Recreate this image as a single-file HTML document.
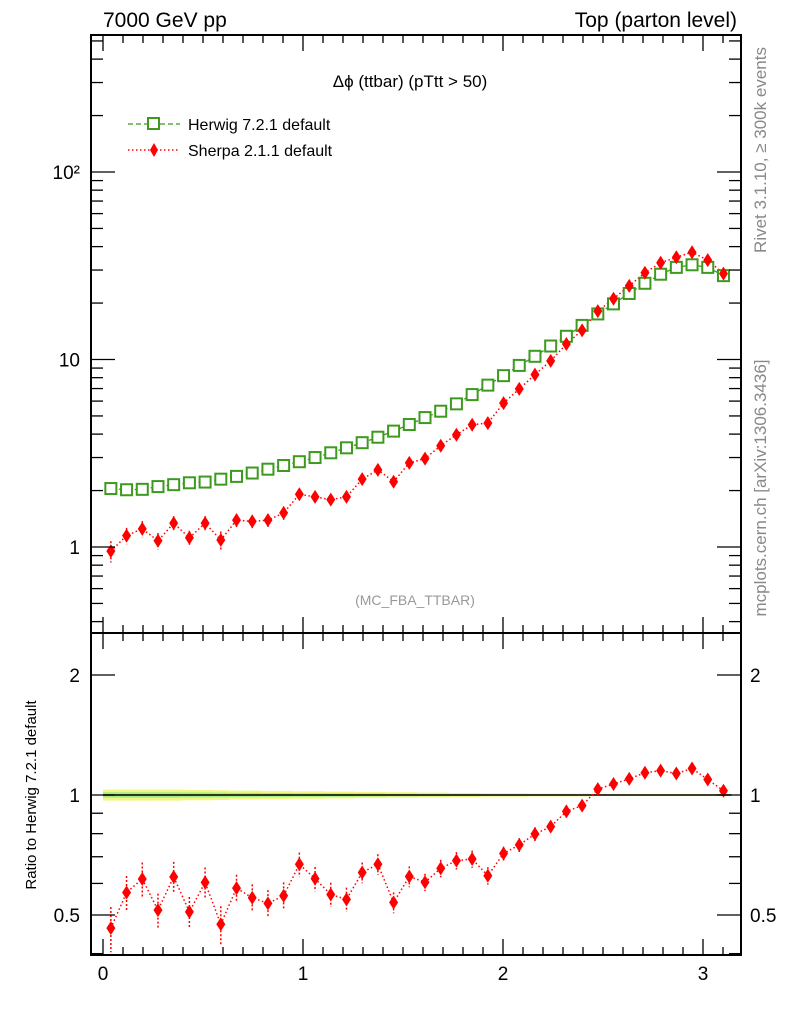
<!DOCTYPE html>
<html><head><meta charset="utf-8"><style>
body{margin:0;background:#fff}
svg text{font-family:"Liberation Sans",sans-serif}
</style></head><body>
<svg id="c" width="786" height="1024" xmlns="http://www.w3.org/2000/svg">
<g id="g"></g>
<text x="103" y="27" font-size="21">7000 GeV pp</text>
<text x="737" y="27" font-size="21" text-anchor="end">Top (parton level)</text>
<text x="410" y="87" font-size="17" text-anchor="middle">Δϕ (ttbar) (pTtt &gt; 50)</text>
<text x="415" y="605" font-size="14" fill="#999" text-anchor="middle">(MC_FBA_TTBAR)</text>
<text transform="translate(766,150) rotate(-90)" font-size="17" fill="#888" text-anchor="middle">Rivet 3.1.10, ≥ 300k events</text>
<text transform="translate(766,488) rotate(-90)" font-size="17" fill="#888" text-anchor="middle">mcplots.cern.ch [arXiv:1306.3436]</text>
<text transform="translate(36,795) rotate(-90)" font-size="15" text-anchor="middle">Ratio to Herwig 7.2.1 default</text>
<g>
<line x1="128" y1="124" x2="180" y2="124" stroke="#3c9a1e" stroke-width="1.3" stroke-dasharray="5,3"/>
<rect x="148" y="118" width="11" height="11" fill="#fff" stroke="#3c9a1e" stroke-width="2"/>
<text x="188" y="130" font-size="16">Herwig 7.2.1 default</text>
<line x1="128" y1="150" x2="180" y2="150" stroke="red" stroke-width="1.5" stroke-dasharray="1.5,2.5"/>
<polygon points="154,143 158,150 154,157 150,150" fill="red"/>
<text x="188" y="156" font-size="16">Sherpa 2.1.1 default</text>
</g>
</svg>
<script>
const herwig=[2.05,2.02,2.03,2.1,2.15,2.2,2.22,2.3,2.38,2.48,2.6,2.72,2.85,3.0,3.18,3.38,3.6,3.85,4.15,4.5,4.9,5.3,5.8,6.5,7.3,8.2,9.3,10.4,11.8,13.3,15.2,17.5,19.8,22.5,25.5,28.5,31,32,31,28];
const sherpa=[0.95,1.15,1.25,1.08,1.34,1.12,1.34,1.09,1.39,1.37,1.39,1.52,1.91,1.85,1.79,1.85,2.30,2.58,2.23,2.81,2.96,3.47,3.97,4.49,4.58,5.85,6.97,8.30,9.83,12.1,14.3,18.1,21.1,24.7,29.0,32.8,35.1,37.3,33.9,28.7];
const sherpaRelErr=[0.13,0.1,0.1,0.1,0.09,0.09,0.09,0.11,0.08,0.08,0.08,0.08,0.07,0.07,0.07,0.07,0.06,0.06,0.06,0.06,0.05,0.05,0.05,0.05,0.05,0.04,0.04,0.04,0.035,0.03,0.03,0.025,0.02,0.02,0.02,0.02,0.02,0.02,0.02,0.02];
const herwigRelErr=[0.016,0.016,0.016,0.016,0.016,0.015,0.015,0.014,0.013,0.013,0.012,0.012,0.011,0.011,0.01,0.01,0.009,0.009,0.008,0.008,0.007,0.007,0.006,0.006,0.005,0.005,0.005,0.004,0.004,0.004,0.004,0.003,0.003,0.003,0.003,0.003,0.003,0.003,0.003,0.003];
const xTicks=[0,1,2,3];
const mainTicks=[1,10,100];const mainTickLabels=["1","10","10²"];
const ratioTicks=[0.5,1,2];const ratioTickLabels=["0.5","1","2"];
const NS="http://www.w3.org/2000/svg";
const g=document.getElementById('g');
const L=91,R=741,T=35,MB=633,B=955;
const nb=herwig.length,w=Math.PI/nb;
const X=v=>103+v*200;
const Y=v=>547-Math.log10(v)*187.5;
const YR=v=>795-Math.log10(v)*398.6;
function el(t,a,p){const e=document.createElementNS(NS,t);for(const k in a)e.setAttribute(k,a[k]);(p||g).appendChild(e);return e;}
for(let i=0;i<nb;i++){const x0=X(i*w),x1=X((i+1)*w);
const r=el('rect',{x:x0,y:YR(1+2*herwigRelErr[i]),width:x1-x0+0.5,height:YR(1-2*herwigRelErr[i])-YR(1+2*herwigRelErr[i]),fill:'#f0f880'});

const r2=el('rect',{x:x0,y:YR(1+herwigRelErr[i]),width:x1-x0+0.5,height:YR(1-herwigRelErr[i])-YR(1+herwigRelErr[i]),fill:'#a8ec88'});
}
const ref=el('line',{x1:X(0),x2:X(Math.PI),y1:YR(1),y2:YR(1),stroke:'#000','stroke-width':1.5});

let hp='',sp='',rp='';
for(let i=0;i<nb;i++){const cx=X((i+0.5)*w);
hp+=(i?'L':'M')+cx+','+Y(herwig[i]);sp+=(i?'L':'M')+cx+','+Y(sherpa[i]);rp+=(i?'L':'M')+cx+','+YR(sherpa[i]/herwig[i]);}
const hl=el('path',{d:hp,fill:'none',stroke:'#3c9a1e','stroke-width':1.3,'stroke-dasharray':'5,3'});

const sl=el('path',{d:sp,fill:'none',stroke:'red','stroke-width':1.5,'stroke-dasharray':'1.5,2.5'});

const rl=el('path',{d:rp,fill:'none',stroke:'red','stroke-width':1.5,'stroke-dasharray':'1.5,2.5'});

function diamond(cx,cy,name){const p=el('polygon',{points:`${cx},${cy-7} ${cx+4.5},${cy} ${cx},${cy+7} ${cx-4.5},${cy}`,fill:'red'});
}
for(let i=0;i<nb;i++){const cx=X((i+0.5)*w);
const hy=Y(herwig[i]);
const sq=el('rect',{x:cx-5.5,y:hy-5.5,width:11,height:11,fill:'#fff',stroke:'#3c9a1e','stroke-width':2});

const s=sherpa[i],e=sherpaRelErr[i];
const eb=el('line',{x1:cx,x2:cx,y1:Y(s*(1+e)),y2:Y(s*(1-e)),stroke:'red','stroke-width':1.5,'stroke-dasharray':'2,2'});

diamond(cx,Y(s),'sherpa-point');
const r=s/herwig[i];
const re=el('line',{x1:cx,x2:cx,y1:YR(r*(1+e)),y2:YR(r*(1-e)),stroke:'red','stroke-width':1.5,'stroke-dasharray':'2,2'});

diamond(cx,YR(r),'ratio-point');}
const f1=el('rect',{x:L,y:T,width:R-L,height:MB-T,fill:'none',stroke:'#000','stroke-width':2});

const f2=el('rect',{x:L,y:MB,width:R-L,height:B-MB,fill:'none',stroke:'#000','stroke-width':2});

for(let k=0;k<=31;k++){const v=k/10,x=X(v),maj=k%10==0,len=maj?16:8;
for(const [yb0,dir] of [[MB,-1],[B,-1],[T,1],[MB,1]]){
const t=el('line',{x1:x,x2:x,y1:yb0,y2:yb0+dir*len,stroke:'#000','stroke-width':1.3});
}}
xTicks.forEach(v=>{const t=el('text',{x:X(v),y:980,'font-size':19,'text-anchor':'middle'});t.textContent=v;
});
for(let d=-1;d<=2;d++)for(let m=1;m<=9;m++){const v=m*Math.pow(10,d),y=Y(v);if(y<T||y>MB)continue;const len=m==1?24:12;
for(const [x0,dir] of [[L,1],[R,-1]]){const t=el('line',{x1:x0,x2:x0+dir*len,y1:y,y2:y,stroke:'#000','stroke-width':1.3});
}}
mainTicks.forEach((v,i)=>{const t=el('text',{x:80,y:Y(v)+7,'font-size':19,'text-anchor':'end'});t.textContent=mainTickLabels[i];
});
[0.2,0.3,0.4,0.5,0.6,0.7,0.8,0.9,1,2].forEach(v=>{const y=YR(v);if(y<MB||y>B)return;const len=(v==1||v==2||v==0.5)?24:12;
for(const [x0,dir] of [[L,1],[R,-1]]){const t=el('line',{x1:x0,x2:x0+dir*len,y1:y,y2:y,stroke:'#000','stroke-width':1.3});
}});
ratioTicks.forEach((v,i)=>{for(const [x,a] of [[80,'end'],[750,'start']]){const t=el('text',{x:x,y:YR(v)+7,'font-size':19,'text-anchor':a});t.textContent=ratioTickLabels[i];
}});
</script>
</body></html>
